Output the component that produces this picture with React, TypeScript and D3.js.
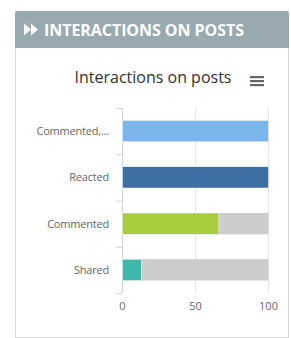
import * as d3 from "d3";
import React, { useEffect, useRef } from "react";

const categories = ["Commented,...", "Reacted", "Commented", "Shared"];
const values = [100, 100, 66, 13];
const totals = [100, 100, 100, 100];
const colors = ["#7cb5ec", "#3d6ea4", "#a6cd3c", "#3eb8ab"];
const xTicks = [0, 50, 100];

export default function App() {
    const ref = useRef<SVGSVGElement>(null);

    useEffect(() => {
        const svg = d3.select(ref.current);
        svg.selectAll("*").remove();

        // panel
        svg.append("rect")
            .attr("x", 15.5).attr("y", 11.5).attr("width", 273).attr("height", 326)
            .attr("fill", "#fff").attr("stroke", "#d6dcde");
        svg.append("path")
            .attr("d", "M15,48 V14 a3,3 0 0 1 3,-3 H286 a3,3 0 0 1 3,3 V48 Z")
            .attr("fill", "#98aaaf");
        svg.append("path")
            .attr("d", "M24,23.5 L31,29.5 L24,35.5 Z M31,23.5 L38,29.5 L31,35.5 Z")
            .attr("fill", "#fff");
        svg.append("text")
            .attr("x", 44).attr("y", 36)
            .attr("fill", "#fff")
            .style("font-family", "Open Sans")
            .style("font-weight", "bold")
            .style("font-size", "16px")
            .attr("textLength", 200)
            .text("INTERACTIONS ON POSTS");

        // chart title + menu
        svg.append("text")
            .attr("x", 153).attr("y", 83)
            .attr("text-anchor", "middle")
            .attr("fill", "#333")
            .style("font-family", "Open Sans")
            .style("font-size", "16px")
            .text("Interactions on posts");
        svg.append("g").selectAll("rect").data([0, 1, 2]).join("rect")
            .attr("x", 250).attr("y", (d) => 76 + d * 4)
            .attr("width", 14).attr("height", 2.2)
            .attr("fill", "#666");

        const x = d3.scaleLinear().domain([0, 100]).range([122, 268]);
        const y = d3.scaleBand().domain(categories).range([108, 293]).paddingInner(0.54).paddingOuter(0.27);
        const band = d3.scaleBand().domain(categories).range([108, 293]);

        // grid
        svg.append("g").selectAll("line").data(xTicks).join("line")
            .attr("x1", (d) => x(d) + 0.5).attr("x2", (d) => x(d) + 0.5)
            .attr("y1", 108).attr("y2", 293)
            .attr("stroke", "#e6e6e6");

        // y axis line + ticks
        svg.append("line")
            .attr("x1", 122.5).attr("x2", 122.5).attr("y1", 108).attr("y2", 293)
            .attr("stroke", "#ccd6eb");
        const bounds = categories.map((c) => band(c)!).concat([293]);
        svg.append("g").selectAll("line").data(bounds).join("line")
            .attr("x1", 116).attr("x2", 122)
            .attr("y1", (d) => d + 0.5).attr("y2", (d) => d + 0.5)
            .attr("stroke", "#ccd6eb");

        // background track bars
        svg.append("g").selectAll("rect").data(totals).join("rect")
            .attr("x", x(0) + 0.5)
            .attr("y", (_, i) => y(categories[i])!)
            .attr("width", (d) => x(d) - x(0))
            .attr("height", y.bandwidth())
            .attr("fill", "#cccccc");

        svg.append("g").selectAll("rect").data(values).join("rect")
            .attr("x", x(0) + 0.5)
            .attr("y", (_, i) => y(categories[i])!)
            .attr("width", (d) => x(d) - x(0))
            .attr("height", y.bandwidth())
            .attr("fill", (_, i) => colors[i])
            .attr("stroke", "#fff")
            .attr("stroke-width", 0.5);

        // category labels
        svg.append("g").selectAll("text").data(categories).join("text")
            .attr("x", 109)
            .attr("y", (d) => y(d)! + y.bandwidth() / 2 + 4)
            .attr("text-anchor", "end")
            .attr("fill", "#666")
            .style("font-family", "Open Sans")
            .style("font-size", "11px")
            .style("letter-spacing", "-0.2px")
            .text((d) => d);

        // x labels
        svg.append("g").selectAll("text").data(xTicks).join("text")
            .attr("x", (d) => x(d) + 0.5)
            .attr("y", 310)
            .attr("text-anchor", "middle")
            .attr("fill", "#666")
            .style("font-family", "Open Sans")
            .style("font-size", "11px")
            .text((d) => d);
    }, []);

    return (
        <svg ref={ref} width={291} height={338}
            style={{ position: "absolute", left: 0, top: 0, background: "#fff" }} />
    );
}
